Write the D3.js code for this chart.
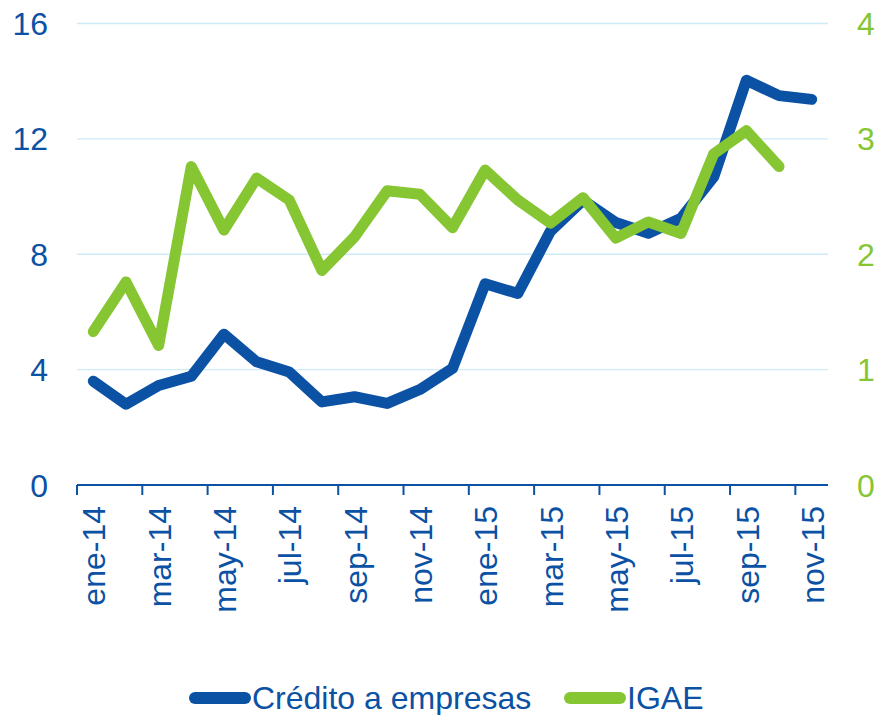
<!DOCTYPE html>
<html>
<head>
<meta charset="utf-8">
<script src="https://cdn.jsdelivr.net/npm/d3@7"></script>
<style>
  body { margin: 0; background: #fff; }
  svg { display: block; font-family: "Liberation Sans", Arial, sans-serif; }
</style>
</head>
<body>
<svg></svg>
<script>
const width = 876;
const height = 715;

const months = ["ene-14","feb-14","mar-14","abr-14","may-14","jun-14","jul-14","ago-14","sep-14","oct-14","nov-14","dic-14",
                "ene-15","feb-15","mar-15","abr-15","may-15","jun-15","jul-15","ago-15","sep-15","oct-15","nov-15"];
const credito = [3.6, 2.8, 3.45, 3.77, 5.23, 4.27, 3.92, 2.88, 3.06, 2.83, 3.31, 4.04,
                 6.98, 6.64, 8.8, 9.87, 9.1, 8.73, 9.25, 10.68, 14.03, 13.5, 13.37];
const igae = [1.33, 1.76, 1.21, 2.76, 2.21, 2.66, 2.47, 1.86, 2.15, 2.55, 2.52, 2.23,
              2.73, 2.47, 2.27, 2.49, 2.14, 2.28, 2.18, 2.87, 3.07, 2.76];
const leftTicks = [0, 4, 8, 12, 16];
const rightTicks = [0, 1, 2, 3, 4];

const blue = "#0b51a4";
const green = "#86c633";
const grid = "#cdebf8";

const svg = d3.select("svg").attr("width", width).attr("height", height);

const x = d3.scaleBand().domain(months).range([77, 828]).padding(0);
const yL = d3.scaleLinear().domain([0, 16]).range([485, 23.5]);
const yR = d3.scaleLinear().domain([0, 4]).range([485, 23.5]);

// gridlines
svg.append("g").selectAll("line")
    .data(leftTicks.filter(d => d > 0))
    .enter().append("line")
    .attr("x1", 77).attr("x2", 828)
    .attr("y1", d => yL(d)).attr("y2", d => yL(d))
    .style("stroke", grid).style("stroke-width", 1.3);

// left labels
svg.append("g").selectAll("text")
    .data(leftTicks)
    .enter().append("text")
    .attr("x", 48).attr("y", d => yL(d))
    .attr("dy", "0.36em")
    .attr("text-anchor", "end")
    .style("font-size", "32px").style("fill", blue)
    .text(d => d);

// right labels
svg.append("g").selectAll("text")
    .data(rightTicks)
    .enter().append("text")
    .attr("x", 857).attr("y", d => yR(d))
    .attr("dy", "0.36em")
    .style("font-size", "32px").style("fill", green)
    .text(d => d);

// x axis
svg.append("line")
    .attr("x1", 77).attr("x2", 828).attr("y1", 485).attr("y2", 485)
    .style("stroke", blue).style("stroke-width", 2);

const labelled = months.filter((d, i) => i % 2 === 0);
svg.append("g").selectAll("line")
    .data(labelled)
    .enter().append("line")
    .attr("x1", d => x(d)).attr("x2", d => x(d))
    .attr("y1", 485).attr("y2", 495)
    .style("stroke", blue).style("stroke-width", 2);

svg.append("g").selectAll("text")
    .data(labelled)
    .enter().append("text")
    .attr("transform", d => `translate(${x(d) + x.bandwidth() / 2},506) rotate(-90)`)
    .attr("dy", "0.38em")
    .attr("text-anchor", "end")
    .style("font-size", "32px").style("fill", blue)
    .text(d => d);

// lines
const lineL = d3.line().x((d, i) => x(months[i]) + x.bandwidth() / 2).y(d => yL(d));
const lineR = d3.line().x((d, i) => x(months[i]) + x.bandwidth() / 2).y(d => yR(d));

svg.append("path")
    .datum(credito)
    .attr("d", lineL)
    .style("fill", "none").style("stroke", blue)
    .style("stroke-width", 11).style("stroke-linejoin", "round").style("stroke-linecap", "round");

svg.append("path")
    .datum(igae)
    .attr("d", lineR)
    .style("fill", "none").style("stroke", green)
    .style("stroke-width", 11).style("stroke-linejoin", "round").style("stroke-linecap", "round");

// legend
const legend = [
    { name: "Crédito a empresas", color: blue, x: 190 },
    { name: "IGAE", color: green, x: 565 }
];
const lg = svg.append("g").selectAll("g")
    .data(legend)
    .enter().append("g")
    .attr("transform", d => `translate(${d.x},698)`);
lg.append("line")
    .attr("x1", 5).attr("x2", 55).attr("y1", 0).attr("y2", 0)
    .style("stroke", d => d.color).style("stroke-width", 12).style("stroke-linecap", "round");
lg.append("text")
    .attr("x", 62).attr("y", 11)
    .style("font-size", "32px").style("fill", blue)
    .text(d => d.name);
</script>
</body>
</html>
